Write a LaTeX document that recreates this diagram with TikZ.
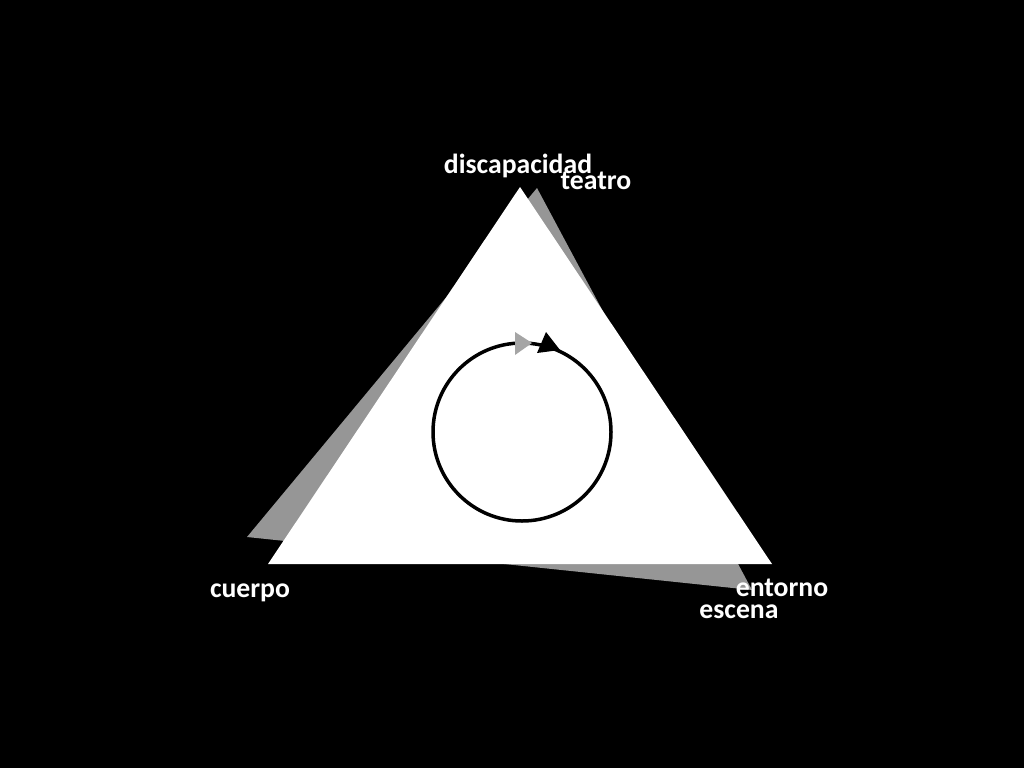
\documentclass[tikz,border=0pt]{standalone}
\usepackage{fontspec}
\setmainfont{Carlito}
\definecolor{shadowgray}{RGB}{150,150,150}
\definecolor{tipgray}{RGB}{165,165,165}
\begin{document}
\begin{tikzpicture}[x=1pt,y=-1pt,
  lbl/.style={text=white,font=\fontsize{27.7}{30}\selectfont\bfseries,anchor=base,inner sep=0pt}]
\fill[black] (0,0) rectangle (1024,768);
\useasboundingbox (0,0) rectangle (1024,768);
% shadow triangle
\coordinate (gt) at (537,188);
\coordinate (gl) at (247,537);
\coordinate (gr) at (752,590);
\fill[shadowgray] (gt) -- (gl) -- (gr) -- cycle;
% white triangle
\coordinate (wt) at (520,187);
\coordinate (wl) at (268,564);
\coordinate (wr) at (772,564);
\fill[white] (wt) -- (wl) -- (wr) -- cycle;
% cycle circle
\coordinate (cc) at (522,432);
\draw[black,line width=3.5pt] (cc) circle[radius=89];
% arrowheads
\fill[tipgray] (515,332) -- (515,355) -- (532,343) -- cycle;
\fill[black] (546,332) -- (537,353) -- (560,350) -- cycle;
% labels
\node[lbl] (dis) at (518,173) {discapacidad};
\node[lbl] (tea) at (596,189) {teatro};
\node[lbl] (cue) at (250,597) {cuerpo};
\node[lbl] (ent) at (782,596) {entorno};
\node[lbl] (esc) at (739,618) {escena};
\end{tikzpicture}
\end{document}
